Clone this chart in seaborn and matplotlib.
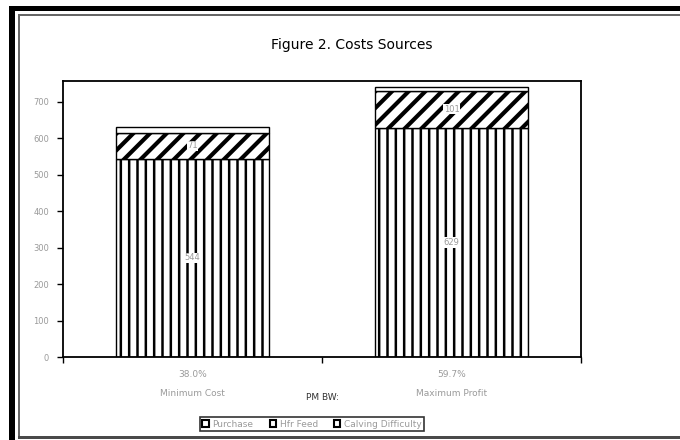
"""
Figure 2 - Costs Sources : barres empilees par scenario de PM BW.
"""

import matplotlib
matplotlib.use("Agg")
import matplotlib.pyplot as plt
from matplotlib.patches import Rectangle, Patch
import pandas as pd
import seaborn as sns

# Donnees
scenarios = ["38.0%\nMinimum Cost", "59.7%\nMaximum Profit"]
purchase = [544, 629]
hfr_feed = [71, 101]
calving_difficulty = [15, 10]
y_ticks = [0, 100, 200, 300, 400, 500, 600, 700]

TITLE = "Figure 2. Costs Sources"
X_LABEL = "PM BW:"
GRIS = "#9a9a9a"


def construire_df():
    """Table longue avec les bas de chaque segment."""
    lignes = []
    for i, sc in enumerate(scenarios):
        base = 0
        for nom, vals in [("Purchase", purchase), ("Hfr Feed", hfr_feed),
                          ("Calving Difficulty", calving_difficulty)]:
            lignes.append({"scenario": sc, "source": nom,
                           "valeur": vals[i], "bas": base})
            base += vals[i]
    return pd.DataFrame(lignes)


def decor_cadre(fig):
    """Cadre noir et gris autour de la figure (style capture Excel)."""
    W, H = 680.0, 440.0

    def rect(x0, y0, x1, y1, couleur):
        fig.add_artist(Rectangle((x0 / W, 1 - y1 / H), (x1 - x0) / W, (y1 - y0) / H,
                                 transform=fig.transFigure, facecolor=couleur,
                                 edgecolor="none", zorder=10))

    rect(9, 6, 15, 440, "black")
    rect(9, 6, 680, 11, "black")
    rect(18, 14, 20, 438, "#666666")
    rect(18, 14, 680, 16, "#666666")
    rect(18, 436, 680, 439, "#4a4a4a")


def generer_graphique(df):
    sns.set_style("white")
    plt.rcParams["font.family"] = ["DejaVu Sans"]
    fig = plt.figure(figsize=(6.8, 4.4), dpi=100)
    ax = fig.add_axes([63 / 680, 1 - 357 / 440, (581 - 63) / 680, (357 - 81) / 440])

    styles = {
        "Purchase": ("||", 1.8),
        "Hfr Feed": ("//", 3.0),
        "Calving Difficulty": ("", 1.0),
    }
    for nom, (hatch, lw) in styles.items():
        sub = df[df["source"] == nom]
        with plt.rc_context({"hatch.linewidth": lw}):
            sns.barplot(data=sub, x="scenario", y="valeur", bottom=sub["bas"].values,
                        order=scenarios, color="white", edgecolor="black",
                        linewidth=1.0, hatch=hatch, width=0.59, ax=ax,
                        errorbar=None, saturation=1)

    # Etiquettes de valeur au centre des segments
    for i in range(len(scenarios)):
        for vals, bas in [(purchase, 0), (hfr_feed, purchase[i])]:
            ax.text(i, bas + vals[i] / 2, str(vals[i]), ha="center", va="center",
                    fontsize=6, color=GRIS,
                    bbox=dict(facecolor="white", edgecolor="none", pad=0.5))

    ax.set_ylim(0, 757)
    ax.set_xlim(-0.5, 1.5)
    ax.set_yticks(y_ticks)
    ax.set_yticklabels([str(v) for v in y_ticks], fontsize=6, color=GRIS)
    ax.tick_params(axis="y", direction="out", length=4, width=1, color="black", pad=6,
                   left=True)
    ax.set_xticks([-0.5, 0.5, 1.5])
    ax.set_xticklabels(["", "", ""])
    ax.tick_params(axis="x", which="major", direction="out", length=4, width=1,
                   color="black", bottom=True)
    ax.set_xticks([0, 1], minor=True)
    ax.set_xticklabels(scenarios, minor=True, fontsize=6.5, color=GRIS, linespacing=2.5)
    ax.tick_params(axis="x", which="minor", length=0, pad=9)

    ax.set_xlabel(X_LABEL, fontsize=6.5, color="#333333")
    ax.xaxis.set_label_coords(0.5, -0.13)
    ax.set_ylabel("")

    for sp in ax.spines.values():
        sp.set_visible(True)
        sp.set_color("black")
        sp.set_linewidth(1.3)

    fig.text(0.518, 0.898, TITLE, ha="center", va="center", fontsize=10, color="black")

    poignees = [Patch(facecolor="white", edgecolor="black", linewidth=1.5, label=l)
                for l in ["Purchase", "Hfr Feed", "Calving Difficulty"]]
    leg = fig.legend(handles=poignees, loc="center", bbox_to_anchor=(0.459, 0.036),
                     ncol=3, fontsize=6.5, frameon=True, fancybox=False,
                     handlelength=0.7, handleheight=0.7, handletextpad=0.4,
                     columnspacing=1.8, borderpad=0.3)
    leg.get_frame().set_edgecolor("black")
    leg.get_frame().set_linewidth(1.2)
    for t in leg.get_texts():
        t.set_color(GRIS)

    decor_cadre(fig)
    fig.savefig("out.png", dpi=100, facecolor="white")
    plt.close(fig)


def main():
    df = construire_df()
    generer_graphique(df)


if __name__ == "__main__":
    main()
